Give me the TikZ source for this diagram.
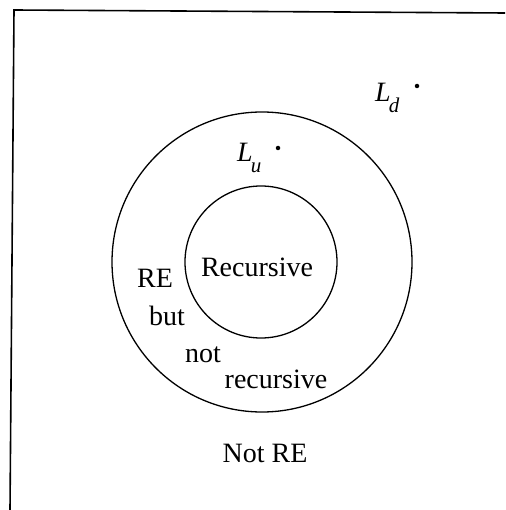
\documentclass[tikz,border=0pt]{standalone}
\usepackage{fontspec}
\setmainfont{Liberation Serif}
\begin{document}
\begin{tikzpicture}[x=1pt,y=-1pt,
  lbl/.style={inner sep=0pt, font=\fontsize{28}{32}\selectfont},
  ring/.style={draw, circle, line width=1.3pt, inner sep=0pt},
  frameline/.style={line width=1.6pt},
  dotmark/.style={fill, circle, inner sep=0pt, minimum size=4.5pt}]
\useasboundingbox (0,0) rectangle (505,510);
\coordinate (tl) at (14,10);
\coordinate (tr) at (505,13);
\coordinate (bl) at (10,510);
\draw[frameline] (tr) -- (tl) -- (bl);
\node[ring, minimum size=300pt] (re) at (262,262) {};
\node[ring, minimum size=152pt] (rec) at (261,262) {};
\node[lbl] (recl) at (257,267) {Recursive};
\node[lbl] (rel) at (155,278) {RE};
\node[lbl] (butl) at (167,316) {but};
\node[lbl] (notl) at (203,355) {not};
\node[lbl] (recursl) at (276,379) {recursive};
\node[lbl] (notre) at (265,453) {Not RE};
\node[lbl, anchor=base west] (ld) at (375,102) {\itshape L\kern-2pt\raisebox{-11pt}{\fontsize{21}{24}\selectfont d}};
\node[lbl, anchor=base west] (lu) at (237,162) {\itshape L\kern-2pt\raisebox{-11pt}{\fontsize{21}{24}\selectfont u}};
\node[dotmark] (ldd) at (417,86) {};
\node[dotmark] (lud) at (278,148) {};
\end{tikzpicture}
\end{document}
